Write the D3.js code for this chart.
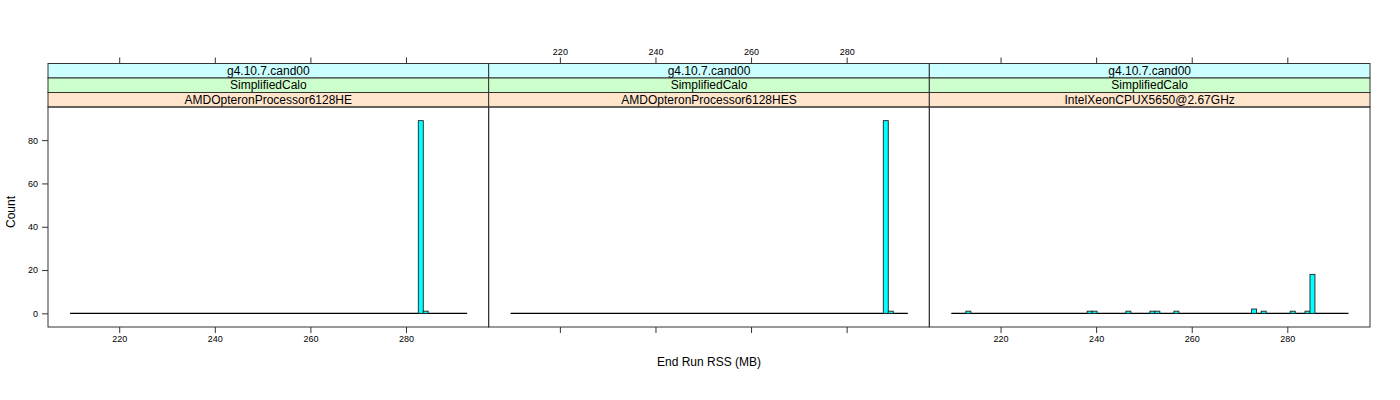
<!DOCTYPE html>
<html><head><meta charset="utf-8">
<script src="https://cdn.jsdelivr.net/npm/d3@7"></script>
<style>body{margin:0;background:#fff}svg{display:block}text{font-family:"Liberation Sans",Arial,sans-serif}</style>
</head><body><svg id="c" width="1400" height="400"></svg>
<script>
// ---- data ----
const version = ["g4.10.7.cand00", "g4.10.7.cand00", "g4.10.7.cand00"];
const physList = ["SimplifiedCalo", "SimplifiedCalo", "SimplifiedCalo"];
const cpu = ["AMDOpteronProcessor6128HE", "AMDOpteronProcessor6128HES", "IntelXeonCPUX5650@2.67GHz"];
const binWidth = 1.04;                 // MB
const breaksRange = [209.7, 292.8];    // MB, first/last break
const xLimits = [205.1, 297.3];
const yLimits = [-6.3, 95.3];
const xTicks = [220, 240, 260, 280];
const yTicks = [0, 20, 40, 60, 80];
// bin left edges (MB) and counts for non-empty bins
const p1Starts = [282.58, 283.62];
const p1Counts = [89, 1];
const p2Starts = [287.67, 288.71];
const p2Counts = [89, 1];
const p3Starts = [212.74, 238.12, 239.16, 246.22, 251.25, 252.29, 256.27, 272.53, 274.54, 280.61, 283.70, 284.74];
const p3Counts = [1, 1, 1, 1, 1, 1, 1, 2, 1, 1, 1, 18];

const panels = [
  {starts: p1Starts, counts: p1Counts},
  {starts: p2Starts, counts: p2Counts},
  {starts: p3Starts, counts: p3Counts}
];

// ---- layout ----
const svg = d3.select("#c");
const L = 48, R = 1370, stripTop = 63.5, stripH = 14.5, bot = 327;
const pTop = stripTop + 3 * stripH;
const pw = (R - L) / 3;
const y = d3.scaleLinear().domain(yLimits).range([bot, pTop]);
const stripCols = ["#CCFFFF", "#CCFFCC", "#FFE5CC"];
const borderCol = "#333";

panels.forEach((p, i) => {
  const x0 = L + i * pw;
  const x = d3.scaleLinear().domain(xLimits).range([x0, x0 + pw]);
  const g = svg.append("g");
  // strips
  const labels = [version[i], physList[i], cpu[i]];
  labels.forEach((t, j) => {
    g.append("rect").attr("x", x0).attr("y", stripTop + j * stripH).attr("width", pw).attr("height", stripH)
      .attr("fill", stripCols[j]).attr("stroke", borderCol).attr("stroke-width", 1);
    g.append("text").attr("x", x0 + pw / 2).attr("y", stripTop + j * stripH + stripH / 2 + 4.2)
      .attr("text-anchor", "middle").attr("font-size", 12).attr("fill", "#000").text(t);
  });
  // baseline (empty bins)
  g.append("line").attr("x1", x(breaksRange[0])).attr("x2", x(breaksRange[1]))
    .attr("y1", y(0)).attr("y2", y(0)).attr("stroke", "#000").attr("stroke-width", 1.2);
  // bars
  g.selectAll("rect.bar").data(p.starts.map((s, k) => ({s, c: p.counts[k]}))).join("rect")
    .attr("class", "bar")
    .attr("x", d => x(d.s)).attr("width", d => x(d.s + binWidth) - x(d.s))
    .attr("y", d => y(d.c)).attr("height", d => y(0) - y(d.c))
    .attr("fill", "#00FFFF").attr("stroke", "#222").attr("stroke-width", 0.9);
  // panel border
  g.append("rect").attr("x", x0).attr("y", pTop).attr("width", pw).attr("height", bot - pTop)
    .attr("fill", "none").attr("stroke", borderCol).attr("stroke-width", 1);
  // bottom axis
  const bAx = d3.axisBottom(x).tickValues(xTicks).tickSize(6).tickPadding(3)
    .tickFormat(i === 1 ? "" : d3.format("d"));
  const ba = g.append("g").attr("transform", `translate(0,${bot})`).call(bAx);
  // top axis
  const tAx = d3.axisTop(x).tickValues(xTicks).tickSize(6).tickPadding(3)
    .tickFormat(i === 1 ? d3.format("d") : "");
  const ta = g.append("g").attr("transform", `translate(0,${stripTop})`).call(tAx);
  [ba, ta].forEach(a => {
    a.select(".domain").remove();
    a.selectAll(".tick line").attr("stroke", borderCol);
    a.selectAll(".tick text").attr("font-size", 9).attr("font-family", "Liberation Sans, Arial, sans-serif").attr("fill", "#000");
  });
  if (i === 0) {
    const la = g.append("g").attr("transform", `translate(${x0},0)`)
      .call(d3.axisLeft(y).tickValues(yTicks).tickSize(6).tickPadding(4).tickFormat(d3.format("d")));
    la.select(".domain").remove();
    la.selectAll(".tick line").attr("stroke", borderCol);
    la.selectAll(".tick text").attr("font-size", 9).attr("font-family", "Liberation Sans, Arial, sans-serif").attr("fill", "#000");
  }
});

svg.append("text").attr("x", (L + R) / 2).attr("y", 366).attr("text-anchor", "middle")
  .attr("font-size", 12).text("End Run RSS (MB)");
svg.append("text").attr("transform", "translate(15,212) rotate(-90)").attr("text-anchor", "middle")
  .attr("font-size", 12).text("Count");
</script></body></html>
